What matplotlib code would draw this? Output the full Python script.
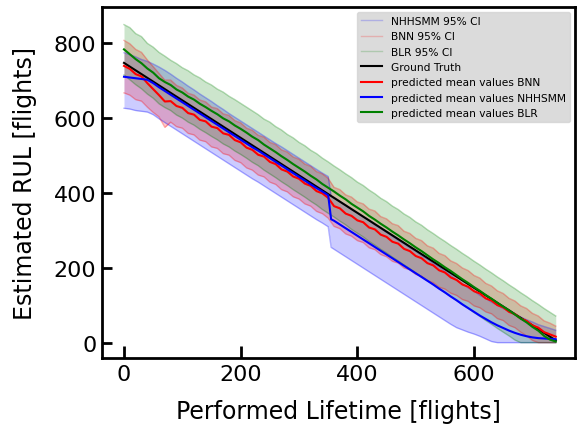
import numpy as np
import matplotlib
matplotlib.use("Agg")
import matplotlib.pyplot as plt
from matplotlib.lines import Line2D

# ---------------- data ----------------
x_grid = list(range(0, 750, 10))
x_nh = sorted(list(range(0, 750, 10)) + [355])

gt_x = [0, 740]
gt_y = [748, 8]

bnn_mean = [740, 732, 718, 712, 694, 678, 662, 645, 646, 633,
            628, 614, 610, 596, 592, 578, 574, 560, 556, 542,
            536, 522, 516, 503, 498, 484, 478, 464, 458, 445,
            439, 426, 420, 406, 400, 388, 366, 360, 346, 340,
            328, 323, 309, 304, 290, 284, 271, 266, 252, 246,
            233, 227, 214, 208, 195, 189, 176, 169, 157, 151,
            139, 133, 120, 114, 102, 96, 84, 78, 66, 60,
            48, 42, 30, 24, 18]
bnn_upper = [808, 799, 784, 776, 756, 738, 720, 702, 702, 688,
             681, 667, 662, 649, 644, 630, 626, 612, 608, 594,
             588, 574, 568, 555, 550, 536, 530, 516, 510, 497,
             491, 478, 472, 458, 452, 440, 416, 410, 396, 390,
             377, 372, 358, 353, 338, 332, 319, 314, 299, 293,
             280, 274, 260, 254, 240, 234, 220, 213, 201, 194,
             181, 174, 160, 153, 140, 133, 120, 113, 100, 93,
             80, 73, 60, 54, 46]
bnn_lower = [668, 662, 650, 646, 630, 616, 604, 576, 590, 578,
             574, 560, 556, 542, 538, 524, 520, 506, 502, 488,
             482, 468, 462, 449, 444, 430, 424, 410, 404, 391,
             385, 372, 366, 352, 346, 334, 312, 306, 292, 286,
             274, 269, 255, 250, 237, 231, 219, 214, 201, 196,
             184, 179, 167, 162, 150, 145, 134, 128, 117, 112,
             100, 95, 84, 79, 66, 61, 48, 42, 30, 20,
             8, 2, 2, 2, 2]

nh_mean = [711, 709, 707, 705, 703, 694, 683, 673, 663, 653,
           643, 633, 623, 613, 603, 593, 583, 573, 563, 553,
           543, 533, 523, 514, 504, 494, 484, 474, 464, 454,
           444, 434, 424, 414, 405, 395, 331, 327, 317, 307,
           297, 287, 277, 267, 257, 247, 237, 227, 217, 207,
           197, 187, 177, 167, 157, 146, 136, 125, 115, 104,
           94, 84, 74, 65, 56, 48, 41, 34, 28, 23,
           19, 16, 14, 13, 12, 11]
nh_upper = [775, 770, 764, 757, 752, 745, 737, 728, 718, 707,
            697, 686, 676, 665, 655, 645, 634, 624, 613, 603,
            593, 583, 573, 563, 553, 543, 533, 524, 514, 504,
            494, 484, 474, 464, 454, 445, 393, 389, 378, 369,
            357, 348, 337, 328, 316, 307, 296, 286, 275, 266,
            255, 246, 234, 225, 213, 204, 192, 182, 170, 160,
            148, 140, 128, 120, 110, 102, 93, 86, 77, 70,
            63, 57, 50, 45, 40, 35]
nh_lower = [627, 625, 621, 619, 617, 610, 599, 589, 579, 569,
            559, 549, 539, 529, 519, 509, 499, 489, 479, 469,
            459, 449, 439, 430, 420, 410, 400, 390, 380, 370,
            360, 350, 340, 330, 321, 311, 256, 251, 241, 231,
            221, 211, 201, 191, 181, 171, 161, 151, 141, 131,
            121, 111, 101, 91, 81, 71, 61, 51, 42, 36,
            30, 25, 19, 12, 5, 2, 2, 2, 2, 2,
            2, 2, 2, 2, 2, 2]

blr_mean = [784, 771, 758, 747, 733, 722, 707, 697, 689, 677,
            669, 658, 650, 639, 630, 620, 611, 600, 592, 581,
            572, 562, 551, 542, 530, 520, 510, 499, 489, 478,
            468, 458, 447, 437, 425, 415, 405, 394, 384, 372,
            362, 352, 340, 330, 319, 309, 298, 288, 277, 267,
            256, 246, 235, 224, 214, 203, 193, 182, 171, 161,
            150, 140, 129, 119, 108, 98, 88, 77, 66, 56,
            44, 34, 20, 10, 5]
blr_upper = [850, 842, 826, 818, 800, 790, 776, 766, 755, 746,
             735, 727, 716, 708, 697, 689, 678, 670, 659, 650,
             640, 630, 620, 610, 598, 590, 578, 569, 557, 548,
             536, 527, 515, 506, 494, 484, 473, 463, 452, 442,
             430, 421, 409, 399, 387, 378, 366, 357, 345, 336,
             324, 315, 303, 293, 282, 272, 261, 251, 240, 230,
             219, 209, 198, 188, 177, 167, 156, 146, 135, 125,
             114, 104, 93, 83, 73]
blr_lower = [716, 703, 690, 679, 665, 654, 639, 629, 621, 609,
             601, 590, 582, 571, 562, 552, 543, 532, 524, 513,
             504, 494, 483, 474, 462, 452, 442, 431, 421, 410,
             400, 390, 379, 369, 357, 347, 337, 326, 316, 304,
             294, 284, 272, 262, 251, 241, 230, 220, 209, 199,
             188, 178, 167, 156, 146, 135, 125, 114, 103, 93,
             82, 72, 61, 51, 40, 30, 20, 9, 2, 2,
             2, 2, 2, 2, 2]

x_ticks = [0, 200, 400, 600]
y_ticks = [0, 200, 400, 600, 800]

# ---------------- plot ----------------
fig = plt.figure(figsize=(5.78, 4.27), dpi=100)
ax = fig.add_axes([102 / 578, 1 - 359 / 427, (575 - 102) / 578, (359 - 8) / 427])

bands = [
    (x_nh, nh_lower, nh_upper, "blue", "NHHSMM 95% CI"),
    (x_grid, bnn_lower, bnn_upper, "red", "BNN 95% CI"),
    (x_grid, blr_lower, blr_upper, "green", "BLR 95% CI"),
]
handles = []
for xs, lo, hi, c, lab in bands:
    ax.plot(xs, lo, color=c, alpha=0.3, lw=1)
    ax.plot(xs, hi, color=c, alpha=0.3, lw=1)
    ax.fill_between(xs, lo, hi, color=c, alpha=0.2, lw=0)
    handles.append(Line2D([], [], color=c, alpha=0.2, lw=1, label=lab))

l1, = ax.plot(gt_x, gt_y, color="black", lw=1.5, label="Ground Truth")
l2, = ax.plot(x_grid, bnn_mean, color="red", lw=1.5, label="predicted mean values BNN")
l3, = ax.plot(x_nh, nh_mean, color="blue", lw=1.5, label="predicted mean values NHHSMM")
l4, = ax.plot(x_grid, blr_mean, color="green", lw=1.5, label="predicted mean values BLR")
handles += [l1, l2, l3, l4]

ax.set_xlim(-37.7, 773)
ax.set_ylim(-39, 897)
ax.set_xticks(x_ticks)
ax.set_yticks(y_ticks)

for s in ax.spines.values():
    s.set_linewidth(2)
ax.tick_params(axis="both", direction="in", width=2, labelsize=16)
ax.tick_params(axis="x", pad=4, length=9)
ax.tick_params(axis="y", pad=4, length=7)

ax.set_xlabel("Performed Lifetime [flights]", fontsize=17, labelpad=11)
ax.set_ylabel("Estimated RUL [flights]", fontsize=17, labelpad=12)

leg = ax.legend(handles=handles, loc="upper right", fontsize=7.7,
                facecolor="lightgray", edgecolor="lightgray", framealpha=0.8,
                fancybox=True, borderaxespad=0.45)

fig.savefig("out.png", dpi=100)
